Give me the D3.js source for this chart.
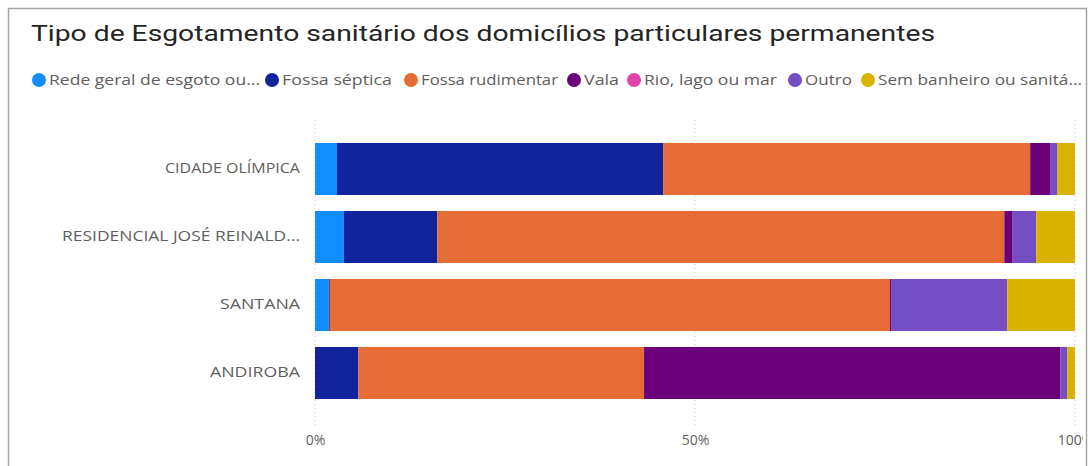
<!DOCTYPE html>
<html lang="pt">
<head>
    <meta charset="UTF-8">
    <title>Tipo de Esgotamento sanitário</title>
    <script src="https://d3js.org/d3.v7.min.js"></script>
    <style>
        body { margin: 0; background: #fff; }
        svg { display: block; }
        .tick text { fill: #605e5c; }
    </style>
</head>
<body>
<div id="chart"></div>
<script>
    // categories (top to bottom)
    const bairros = ['CIDADE OLÍMPICA', 'RESIDENCIAL JOSÉ REINALD...', 'SANTANA', 'ANDIROBA'];

    // series (legend order) and colours
    const series = ['Rede geral de esgoto ou...', 'Fossa séptica', 'Fossa rudimentar', 'Vala', 'Rio, lago ou mar', 'Outro', 'Sem banheiro ou sanitá...'];
    const colors = ['#118DFF', '#12239E', '#E66C37', '#6B007B', '#E044A7', '#744EC2', '#D9B300'];

    // share (%) of each series per bairro, same order as bairros
    const redeGeral     = [2.9, 3.8, 1.8, 0.0];
    const fossaSeptica  = [42.9, 12.3, 0.15, 5.7];
    const fossaRudim    = [48.3, 74.6, 73.7, 37.6];
    const vala          = [2.7, 1.1, 0.15, 54.8];
    const rioLagoMar    = [0.0, 0.0, 0.0, 0.0];
    const outro         = [0.9, 3.1, 15.3, 0.9];
    const semBanheiro   = [2.3, 5.1, 8.9, 1.0];

    const xTicks = [0, 0.5, 1];

    const values = [redeGeral, fossaSeptica, fossaRudim, vala, rioLagoMar, outro, semBanheiro];

    const W = 1091, H = 466;
    const svg = d3.select('#chart').append('svg')
        .attr('width', W).attr('height', H);

    svg.append('defs').append('clipPath').attr('id', 'visclip')
        .append('rect').attr('x', 9).attr('y', 9).attr('width', 1074).attr('height', H);

    // frame
    svg.append('rect')
        .attr('x', 8.5).attr('y', 8.5)
        .attr('width', 1078).attr('height', H + 10)
        .attr('fill', '#fff')
        .attr('stroke', '#a6a6a6')
        .attr('stroke-width', 1.5);

    const root = svg.append('g').attr('clip-path', 'url(#visclip)');

    // title
    root.append('text')
        .attr('x', 31).attr('y', 41)
        .attr('font-family', 'Roboto, "DejaVu Sans", sans-serif')
        .attr('font-size', 22)
        .attr('fill', '#252423')
        .attr('textLength', 904)
        .attr('lengthAdjust', 'spacingAndGlyphs')
        .text('Tipo de Esgotamento sanitário dos domicílios particulares permanentes');

    // legend
    const legendStarts = [32, 265, 404, 567, 627, 788, 861];
    const legendWidths = [211, 110, 137, 35, 133, 47, 204];
    const legend = root.append('g').attr('font-family', '"Segoe UI", "Open Sans", sans-serif')
        .attr('font-size', 14);
    series.forEach((s, i) => {
        const g = legend.append('g').attr('transform', `translate(${legendStarts[i]},80)`);
        g.append('circle').attr('cx', 7).attr('cy', 0).attr('r', 7).attr('fill', colors[i]);
        g.append('text').attr('x', 17).attr('y', 5)
            .attr('fill', '#605e5c')
            .attr('textLength', legendWidths[i])
            .attr('lengthAdjust', 'spacingAndGlyphs')
            .text(s);
    });

    // scales
    const x = d3.scaleLinear().domain([0, 1]).range([315, 1075]);
    const y = d3.scaleBand().domain(bairros).range([135, 407]).paddingInner(0.235).paddingOuter(0.1175);

    // gridlines
    root.append('g').selectAll('line')
        .data(xTicks).enter().append('line')
        .attr('x1', d => x(d)).attr('x2', d => x(d))
        .attr('y1', 120).attr('y2', 426)
        .attr('stroke', '#c8c8c8')
        .attr('stroke-dasharray', '1,3');

    // stacked bars
    const rows = bairros.map((b, j) => {
        const row = { bairro: b };
        series.forEach((s, i) => { row[s] = values[i][j]; });
        return row;
    });
    const stack = d3.stack().keys(series).offset(d3.stackOffsetExpand);
    const layers = stack(rows);

    root.append('g').selectAll('g')
        .data(layers).enter().append('g')
        .attr('fill', (d, i) => colors[i])
        .selectAll('rect')
        .data(d => d).enter().append('rect')
        .attr('x', d => x(d[0]))
        .attr('y', d => y(d.data.bairro))
        .attr('width', d => Math.max(0, x(d[1]) - x(d[0])))
        .attr('height', y.bandwidth());

    // y axis labels
    const yAxis = root.append('g')
        .attr('transform', 'translate(300,0)')
        .call(d3.axisLeft(y).tickSize(0).tickPadding(0));
    yAxis.select('.domain').remove();
    yAxis.selectAll('text')
        .attr('font-family', '"Segoe UI", "Open Sans", sans-serif')
        .attr('font-size', 14)
        .attr('fill', '#605e5c');
    yAxis.selectAll('.tick text').each(function(d) {
        const widths = { 'CIDADE OLÍMPICA': 135, 'RESIDENCIAL JOSÉ REINALD...': 238, 'SANTANA': 80, 'ANDIROBA': 90 };
        d3.select(this).attr('textLength', widths[d]).attr('lengthAdjust', 'spacingAndGlyphs');
    });

    // x axis labels
    const xAxis = root.append('g')
        .attr('transform', 'translate(0,432)')
        .call(d3.axisBottom(x).tickValues(xTicks).tickFormat(d3.format('.0%')).tickSize(0).tickPadding(0));
    xAxis.select('.domain').remove();
    xAxis.selectAll('text')
        .attr('dy', '0.9em')
        .attr('font-family', '"Segoe UI", "Open Sans", sans-serif')
        .attr('font-size', 14)
        .attr('fill', '#605e5c');
</script>
</body>
</html>
